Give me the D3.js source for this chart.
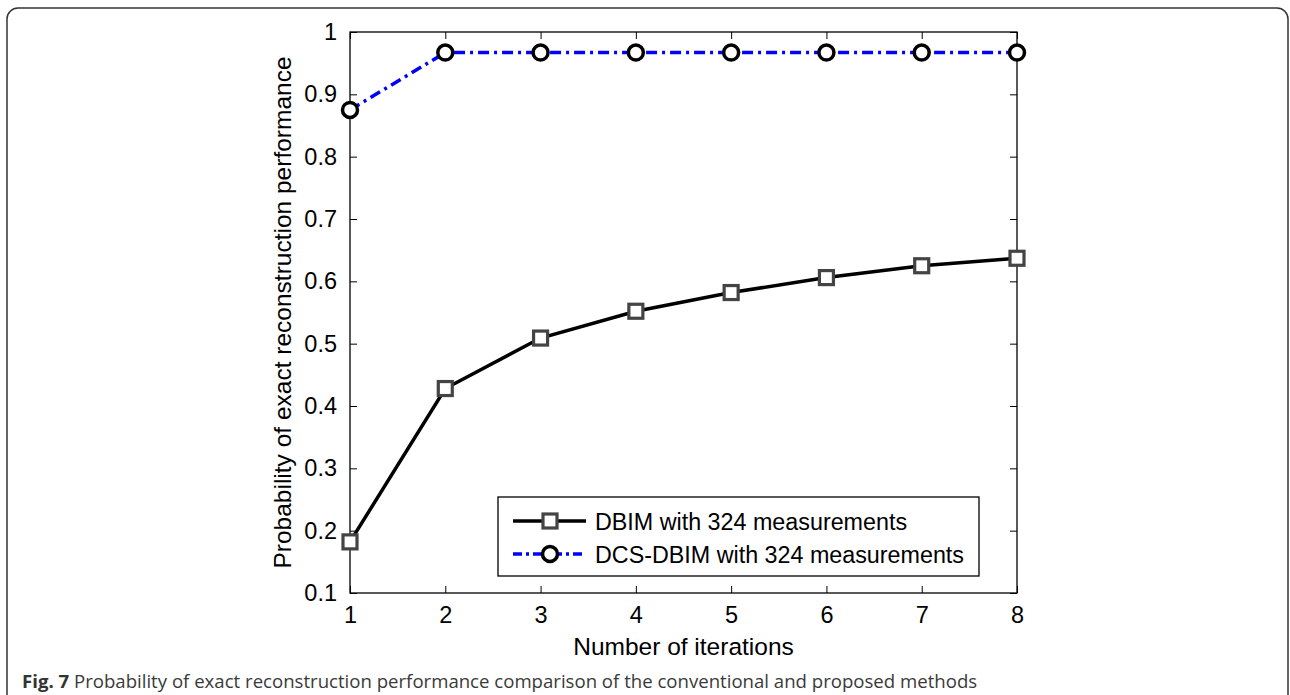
<!DOCTYPE html>
<html>
<head>
<meta charset="utf-8">
<script src="https://cdn.jsdelivr.net/npm/d3@7"></script>
<style>
  body { margin: 0; background: #fff; }
  svg { display: block; }
</style>
</head>
<body>
<div id="chart"></div>
<script>
const iterations = [1, 2, 3, 4, 5, 6, 7, 8];
const dbim = [0.182, 0.428, 0.509, 0.552, 0.582, 0.606, 0.625, 0.637];
const dcsDbim = [0.875, 0.967, 0.967, 0.967, 0.967, 0.967, 0.967, 0.967];
const yTicks = [0.1, 0.2, 0.3, 0.4, 0.5, 0.6, 0.7, 0.8, 0.9, 1];
const legendLabels = ["DBIM with 324 measurements", "DCS-DBIM with 324 measurements"];

const width = 1290, height = 695;
const margin = { left: 350, right: 273, top: 32, bottom: 102 };
const plotW = width - margin.left - margin.right;
const plotH = height - margin.top - margin.bottom;

const svg = d3.select('#chart')
    .append('svg')
    .attr('width', width)
    .attr('height', height);

// rounded page frame
svg.append('rect')
    .attr('x', 7).attr('y', 8)
    .attr('width', 1281).attr('height', 720)
    .attr('rx', 11)
    .attr('fill', 'none')
    .attr('stroke', '#333')
    .attr('stroke-width', 1.5);

const g = svg.append('g')
    .attr('transform', `translate(${margin.left},${margin.top})`);

const x = d3.scaleLinear().domain([1, 8]).range([0, plotW]);
const y = d3.scaleLinear().domain([0.1, 1]).range([plotH, 0]);

const font = 'Liberation Sans, Arial, Helvetica, sans-serif';
const fsTick = 23.5, fsLabel = 24.5, fsLegend = 23.3;
const tickLen = 7;

// axes with inward ticks (matlab box style)
const styleAxis = sel => {
    sel.select('.domain').remove();
    sel.selectAll('line').attr('stroke', '#000');
    sel.selectAll('text').attr('font-family', font).attr('font-size', fsTick).attr('fill', '#000');
};

g.append('g')
    .attr('transform', `translate(0,${plotH})`)
    .call(d3.axisBottom(x).tickValues(iterations).tickFormat(d3.format('d'))
        .tickSizeInner(-tickLen).tickSizeOuter(0).tickPadding(13))
    .call(styleAxis);

g.append('g')
    .call(d3.axisTop(x).tickValues(iterations).tickFormat('')
        .tickSizeInner(-tickLen).tickSizeOuter(0))
    .call(styleAxis);

g.append('g')
    .call(d3.axisLeft(y).tickValues(yTicks).tickFormat(d => d === 1 ? '1' : d3.format('.1f')(d))
        .tickSizeInner(-tickLen).tickSizeOuter(0).tickPadding(13))
    .call(styleAxis);

g.append('g')
    .attr('transform', `translate(${plotW},0)`)
    .call(d3.axisRight(y).tickValues(yTicks).tickFormat('')
        .tickSizeInner(-tickLen).tickSizeOuter(0))
    .call(styleAxis);

// plot box
g.append('rect')
    .attr('width', plotW).attr('height', plotH)
    .attr('fill', 'none').attr('stroke', '#000').attr('stroke-width', 1.3);

// axis labels
svg.append('text')
    .attr('x', margin.left + plotW / 2).attr('y', 655)
    .attr('text-anchor', 'middle')
    .attr('font-family', font).attr('font-size', fsLabel)
    .text('Number of iterations');

svg.append('text')
    .attr('transform', `translate(291,${margin.top + plotH / 2}) rotate(-90)`)
    .attr('text-anchor', 'middle')
    .attr('font-family', font).attr('font-size', fsLabel)
    .text('Probability of exact reconstruction performance');

const line = d3.line()
    .x((d, i) => x(iterations[i]))
    .y(d => y(d));

// DBIM series
g.append('path')
    .datum(dbim)
    .attr('d', line)
    .attr('fill', 'none')
    .attr('stroke', '#000')
    .attr('stroke-width', 3.5);

g.selectAll('.sq')
    .data(dbim)
    .join('rect')
    .attr('class', 'sq')
    .attr('x', (d, i) => x(iterations[i]) - 7)
    .attr('y', d => y(d) - 7)
    .attr('width', 14).attr('height', 14)
    .attr('fill', '#fff')
    .attr('stroke', '#444')
    .attr('stroke-width', 3.2);

// DCS-DBIM series
g.append('path')
    .datum(dcsDbim)
    .attr('d', line)
    .attr('fill', 'none')
    .attr('stroke', '#0000ff')
    .attr('stroke-width', 3.5)
    .attr('stroke-dasharray', '11,5,3,5');

g.selectAll('.circ')
    .data(dcsDbim)
    .join('circle')
    .attr('class', 'circ')
    .attr('cx', (d, i) => x(iterations[i]))
    .attr('cy', d => y(d))
    .attr('r', 7.5)
    .attr('fill', '#fff')
    .attr('stroke', '#000')
    .attr('stroke-width', 3.5);

// legend
const legend = svg.append('g').attr('transform', 'translate(498,497)');
legend.append('rect')
    .attr('width', 481).attr('height', 79)
    .attr('fill', '#fff').attr('stroke', '#000').attr('stroke-width', 1.3);

const rows = [
    { y: 24, color: '#000', dash: null, marker: 'square' },
    { y: 57, color: '#0000ff', dash: '9,4,3,4', marker: 'circle' }
];
rows.forEach((r, i) => {
    legend.append('line')
        .attr('x1', 15).attr('x2', 88)
        .attr('y1', r.y).attr('y2', r.y)
        .attr('stroke', r.color).attr('stroke-width', 3.5)
        .attr('stroke-dasharray', r.dash);
    if (r.marker === 'square') {
        legend.append('rect')
            .attr('x', 52 - 7).attr('y', r.y - 7)
            .attr('width', 14).attr('height', 14)
            .attr('fill', '#fff').attr('stroke', '#444').attr('stroke-width', 3.2);
    } else {
        legend.append('circle')
            .attr('cx', 52).attr('cy', r.y).attr('r', 7.5)
            .attr('fill', '#fff').attr('stroke', '#000').attr('stroke-width', 3.5);
    }
    legend.append('text')
        .attr('x', 97).attr('y', r.y + 8.5)
        .attr('font-family', font).attr('font-size', fsLegend)
        .text(legendLabels[i]);
});

// caption
const cap = svg.append('text')
    .attr('x', 22).attr('y', 688)
    .attr('font-family', 'Open Sans, Noto Sans, sans-serif')
    .attr('font-size', 18.6)
    .attr('fill', '#3a3a3a');
cap.append('tspan').attr('font-weight', 'bold').attr('fill', '#333').text('Fig. 7');
cap.append('tspan').text(' Probability of exact reconstruction performance comparison of the conventional and proposed methods');
</script>
</body>
</html>
